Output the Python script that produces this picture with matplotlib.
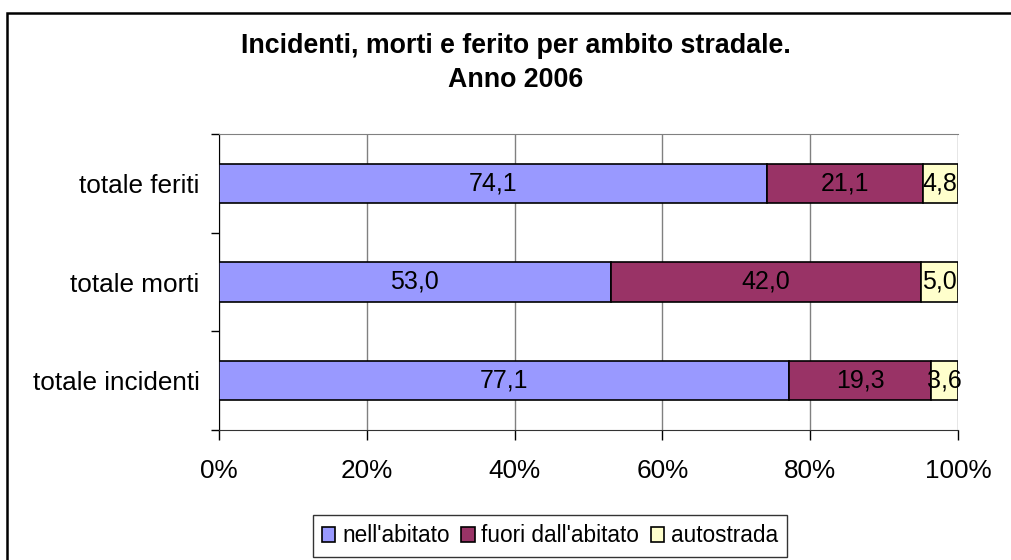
import numpy as np
import matplotlib.pyplot as plt
from matplotlib.patches import Rectangle

plt.rcParams['font.family'] = ['Liberation Sans', 'DejaVu Sans']

# Data (percent shares, Anno 2006)
categories = ['totale incidenti', 'totale morti', 'totale feriti']
nell_abitato = [77.1, 53.0, 74.1]
fuori_abitato = [19.3, 42.0, 21.1]
autostrada = [3.6, 5.0, 4.8]
series_names = ["nell'abitato", "fuori dall'abitato", 'autostrada']
colors = ['#9999FF', '#993366', '#FFFFCC']

fig = plt.figure(figsize=(10.12, 5.6), dpi=100)
ax = fig.add_axes([219 / 1012, 1 - 430 / 560, 739 / 1012, 296 / 560])

# outer chart frame (right/bottom cut off like the reference)
fig.patches.append(Rectangle((7 / 1012, -0.1), 1.1, 1 - 13 / 560 + 0.1,
                             transform=fig.transFigure, fill=False,
                             edgecolor='black', linewidth=1.8))

y = np.arange(len(categories))
left = np.zeros(len(categories))
for vals, name, col in zip([nell_abitato, fuori_abitato, autostrada], series_names, colors):
    vals = np.array(vals)
    bars = ax.barh(y, vals, left=left, height=0.4, color=col, edgecolor='black',
                   linewidth=1.2, label=name, zorder=3)
    for b, v in zip(bars, vals):
        ax.text(b.get_x() + b.get_width() / 2, b.get_y() + b.get_height() / 2,
                f'{v:.1f}'.replace('.', ','), ha='center', va='center',
                fontsize=18, color='black', zorder=4)
    left += vals

ax.set_xlim(0, 100)
ax.set_ylim(-0.5, 2.5)
ax.set_xticks(np.arange(0, 101, 20))
ax.set_xticklabels([f'{t}%' for t in range(0, 101, 20)])
ax.set_yticks(y)
ax.set_yticklabels(categories)
ax.set_yticks(np.arange(-0.5, 2.6, 1), minor=True)
ax.tick_params(axis='y', which='major', length=0, labelsize=18.8, pad=14)
ax.tick_params(axis='y', which='minor', length=6, direction='out', width=1)
ax.tick_params(axis='x', length=7, direction='out', labelsize=18.8, pad=14, width=1)
ax.grid(axis='x', color='#808080', linewidth=1, zorder=0)

ax.spines['top'].set_color('#808080')
ax.spines['right'].set_visible(False)
ax.spines['left'].set_color('black')
ax.spines['bottom'].set_color('#333333')

fig.text(0.51, 1 - 46 / 560, 'Incidenti, morti e ferito per ambito stradale.',
         ha='center', va='center', fontsize=19.3, fontweight='bold')
fig.text(0.51, 1 - 80 / 560, 'Anno 2006',
         ha='center', va='center', fontsize=19.3, fontweight='bold')

leg = fig.legend(loc='center', bbox_to_anchor=(550 / 1012, 1 - 536 / 560), ncol=3,
                 fontsize=16.3, frameon=True, fancybox=False, edgecolor='black',
                 handlelength=0.6, handleheight=0.6, handletextpad=0.3,
                 columnspacing=0.5, borderpad=0.4)
leg.get_frame().set_linewidth(1)

fig.savefig('out.png', dpi=100)
